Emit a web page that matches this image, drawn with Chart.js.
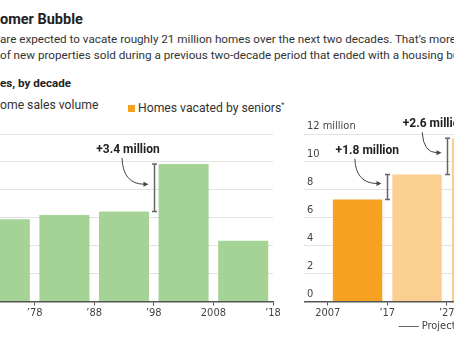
<!DOCTYPE html>
<html>
<head>
<meta charset="utf-8">
<script src="https://cdn.jsdelivr.net/npm/chart.js@4.4.1/dist/chart.umd.min.js"></script>
<style>
  html, body { margin: 0; padding: 0; width: 454px; height: 341px; overflow: hidden; background: #fff; }
  body { position: relative; font-family: Roboto, sans-serif; color: #222; }
  .t { position: absolute; white-space: nowrap; }
  .title { font-weight: 700; font-size: 14.5px; line-height: 16px; top: 12px; }
  .dek { font-size: 11.68px; line-height: 16px; color: #333; }
  .sub { font-weight: 700; font-size: 11.6px; line-height: 16px; top: 75px; }
  .leg { font-size: 12.2px; line-height: 16px; top: 97px; color: #333; }
  .sw { display: inline-block; width: 7px; height: 7px; margin-right: 3px; vertical-align: 0px; }
  sup { font-size: 7px; vertical-align: 5px; }
  .box { position: absolute; top: 110px; height: 231px; }
</style>
</head>
<body>
<div class="t title" data-x="0"><span class="pre">The Bo</span>omer Bubble</div>
<div class="t dek" style="top:31px" data-x="0"><span class="pre">Seniors </span>are expected to vacate roughly 21 million homes over the next two decades. That’s more than</div>
<div class="t dek" style="top:47px" data-x="0"><span class="pre">the number </span>of new properties sold during a previous two-decade period that ended with a housing bust.</div>
<div class="t sub" data-x="0"><span class="pre">New-home sal</span>es, by decade</div>
<div class="t leg" data-x="0"><span class="pre"><i class="sw" style="background:#a5d395"></i>New-h</span>ome sales volume</div>
<div class="t leg" data-x="128"><i class="sw" style="background:#f6a11f"></i>Homes vacated by seniors<sup>*</sup></div>

<div class="box" style="left:-25px; width:310px;"><canvas id="left"></canvas></div>
<div class="box" style="left:304px; width:238px;"><canvas id="right"></canvas></div>

<script>
// new-home sales, millions, per decade (bar centred on the decade)
const salesYears = [1973, 1983, 1993, 2003, 2013]
const salesValues = [5.9, 6.2, 6.45, 9.85, 4.35]
const salesTicks = [1968, 1978, 1988, 1998, 2008, 2018]
const salesTickLabels = ['', '’78', '’88', '’98', '2008', '’18']

// homes vacated by seniors, millions, per decade
const seniorYears = [2012, 2022, 2032]
const seniorValues = [7.3, 9.1, 11.7]
const seniorColors = ['#f6a11f', '#fbcf8f', '#fbcf8f']
const seniorTicks = [2007, 2017, 2027, 2037]
const seniorTickLabels = ['2007', '’17', '’27', '’37']

const yTicks = [0, 2, 4, 6, 8, 10, 12]
const yTickLabels = ['0', '2', '4', '6', '8', '10', '12 million']

const gapLabels = ['+3.4 million', '+1.8 million', '+2.6 million']

// push the clipped text lines so the visible part starts where the picture has it
document.querySelectorAll('.t').forEach(el => {
    const pre = el.querySelector('.pre')
    const w = pre ? pre.getBoundingClientRect().width : 0
    el.style.left = (+el.dataset.x - w) + 'px'
})

const tickFont = { family: "'Liberation Sans Narrow', 'DejaVu Sans Condensed', sans-serif", size: 11 }

const notesPlugin = {
    id: 'notes',
    afterDatasetsDraw(chart, args, opts) {
        const { ctx, scales: { x, y } } = chart
        ctx.save()
        ;(opts.items || []).forEach(n => {
            const bx = Math.round(x.getPixelForValue(n.at)) + 0.5
            const top = y.getPixelForValue(n.hi)
            const bot = y.getPixelForValue(n.lo)
            ctx.strokeStyle = '#666'
            ctx.lineWidth = 1.5
            ctx.beginPath()
            ctx.moveTo(bx, top); ctx.lineTo(bx, bot)
            ctx.moveTo(bx - 2.5, top); ctx.lineTo(bx + 2.5, top)
            ctx.moveTo(bx - 2.5, bot); ctx.lineTo(bx + 2.5, bot)
            ctx.stroke()

            const tx = bx + n.tx
            const ty = top + n.ty
            ctx.fillStyle = '#222'
            ctx.font = 'bold 12px Roboto'
            ctx.textAlign = 'center'
            ctx.textBaseline = 'middle'
            ctx.fillText(n.text, tx, ty)

            const sx = tx + n.sx, sy = ty + 8
            const ex = bx - 6, ey = (top + bot) / 2 - 3.5
            ctx.strokeStyle = '#444'
            ctx.lineWidth = 1
            ctx.beginPath()
            ctx.moveTo(sx, sy)
            ctx.quadraticCurveTo(sx + 1, ey, ex - 4, ey)
            ctx.stroke()
            ctx.fillStyle = '#444'
            ctx.beginPath()
            ctx.moveTo(ex, ey); ctx.lineTo(ex - 5, ey - 2.5); ctx.lineTo(ex - 5, ey + 2.5)
            ctx.closePath()
            ctx.fill()
        })
        if (opts.projected) {
            const cx = x.getPixelForValue(opts.projected) - 2
            const cy = 216
            ctx.font = "11px 'Liberation Sans Narrow', 'DejaVu Sans Condensed', sans-serif"
            ctx.fillStyle = '#444'
            ctx.textAlign = 'center'
            ctx.textBaseline = 'middle'
            ctx.fillText('Projected', cx, cy)
            const w = ctx.measureText('Projected').width / 2
            ctx.strokeStyle = '#666'
            ctx.lineWidth = 1
            ctx.beginPath()
            ctx.moveTo(cx - w - 3, cy + 0.5); ctx.lineTo(cx - w - 23, cy + 0.5)
            ctx.moveTo(cx + w + 3, cy + 0.5); ctx.lineTo(cx + w + 23, cy + 0.5)
            ctx.stroke()
        }
        ctx.restore()
    }
}

function buildOptions(xMin, xMax, ticks, tickLabels, showY, padRight, notes) {
    return {
        responsive: true,
        maintainAspectRatio: false,
        animation: false,
        layout: { padding: { top: 24, left: 0, right: padRight, bottom: 0 } },
        plugins: {
            legend: { display: false },
            tooltip: { enabled: false },
            notes: notes
        },
        scales: {
            x: {
                type: 'linear',
                min: xMin,
                max: xMax,
                offset: false,
                afterBuildTicks: axis => { axis.ticks = ticks.map(v => ({ value: v })) },
                afterFit: axis => {
                    axis.height = 39.5
                    axis.paddingLeft = 0
                    axis.paddingRight = 0
                },
                grid: { offset: false, drawOnChartArea: false, drawTicks: true, tickLength: 4, color: '#555', lineWidth: 1 },
                border: { color: '#555', width: 1.5 },
                ticks: {
                    autoSkip: false,
                    maxRotation: 0,
                    padding: 1,
                    color: '#444',
                    font: tickFont,
                    callback: (v, i) => tickLabels[i]
                }
            },
            y: {
                min: 0,
                max: 12,
                afterBuildTicks: axis => { axis.ticks = yTicks.map(v => ({ value: v })) },
                afterFit: axis => {
                    axis.width = 0
                    axis.paddingTop = 0
                    axis.paddingBottom = 0
                },
                grid: {
                    drawTicks: false,
                    color: c => c.tick && c.tick.value === 0 ? 'rgba(0,0,0,0)' : '#e3e3e3'
                },
                border: { display: false },
                ticks: {
                    display: showY,
                    mirror: true,
                    padding: 3,
                    labelOffset: -7.5,
                    color: '#444',
                    font: tickFont,
                    callback: (v, i) => yTickLabels[i]
                }
            }
        }
    }
}

new Chart(document.getElementById('left'), {
    type: 'bar',
    data: {
        datasets: [{
            data: salesYears.map((yr, i) => ({ x: yr, y: salesValues[i] })),
            backgroundColor: '#a5d395',
            categoryPercentage: 1,
            barPercentage: 0.84
        }]
    },
    options: buildOptions(1968, 2018, salesTicks, salesTickLabels, false, 12, {
        items: [{ at: 1998, lo: salesValues[2], hi: salesValues[3], text: gapLabels[0], tx: -26.5, ty: -14, sx: -6 }]
    }),
    plugins: [notesPlugin]
})

new Chart(document.getElementById('right'), {
    type: 'bar',
    data: {
        datasets: [{
            data: seniorYears.map((yr, i) => ({ x: yr, y: seniorValues[i] })),
            backgroundColor: seniorColors,
            categoryPercentage: 1,
            barPercentage: 0.83
        }]
    },
    options: buildOptions(2003, 2043, seniorTicks, seniorTickLabels, true, 0, {
        items: [
            { at: 2017, lo: seniorValues[0], hi: seniorValues[1], text: gapLabels[1], tx: -20.2, ty: -23.7, sx: -12.5 },
            { at: 2027, lo: seniorValues[1], hi: seniorValues[2], text: gapLabels[2], tx: -13, ty: -14, sx: -12.3 }
        ],
        projected: 2027
    }),
    plugins: [notesPlugin]
})
</script>
</body>
</html>
